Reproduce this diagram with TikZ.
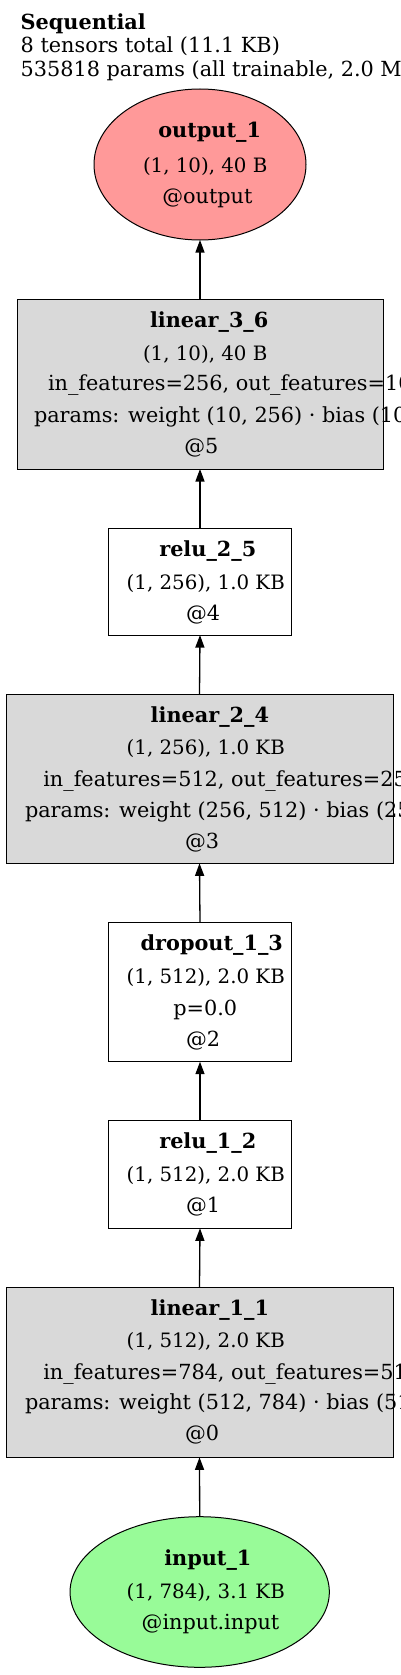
\documentclass[tikz,border=0pt]{standalone}
\usepackage{fontspec}
\setmainfont{DejaVu Serif}
\usetikzlibrary{shapes.geometric,arrows.meta}
\definecolor{outfill}{HTML}{FF9999}
\definecolor{infill}{HTML}{98FB98}
\definecolor{linfill}{HTML}{D9D9D9}
\tikzset{
  box/.style={draw=black, line width=1pt, rectangle, inner sep=0pt, outer sep=0pt},
  oval/.style={draw=black, line width=1pt, ellipse, inner sep=0pt, outer sep=0pt},
  txt/.style={anchor=base west, inner sep=0pt, outer sep=0pt, font=\fontsize{20.8}{25}\selectfont},
  txtn/.style={txt, font=\fontsize{19.8}{24}\selectfont},
  edge/.style={draw=black, line width=1.3pt, -{Triangle[length=12.5pt,width=9pt]}}
}
\begin{document}
\begin{tikzpicture}[x=1pt,y=-1pt]
\useasboundingbox (0,0) rectangle (400,1675);
\clip (0,0) rectangle (400,1675);
\fill[white] (0,0) rectangle (400,1675);
% header
\node[txt] (h1) at (20.7,30) {\textbf{Sequential}};
\node[txt] (h2) at (20.7,53) {8 tensors total (11.1 KB)};
\node[txt] (h3) at (20.7,77) {535818 params (all trainable, 2.0 MB)};
% shapes
\node[oval, fill=outfill, minimum width=212pt, minimum height=151pt] (out) at (200,164.5) {};
\node[box, fill=linfill, minimum width=366pt, minimum height=170pt] (l36) at (200,384) {};
\node[box, fill=white, minimum width=183.4pt, minimum height=106.7pt] (r25) at (200,581.7) {};
\node[box, fill=linfill, minimum width=387pt, minimum height=169pt] (l24) at (199.5,778.8) {};
\node[box, fill=white, minimum width=183.4pt, minimum height=139pt] (d13) at (200,992.2) {};
\node[box, fill=white, minimum width=183.4pt, minimum height=107.6pt] (r12) at (200,1174.5) {};
\node[box, fill=linfill, minimum width=387pt, minimum height=170pt] (l11) at (199.5,1372.3) {};
\node[oval, fill=infill, minimum width=259.3pt, minimum height=150.6pt] (in) at (199.7,1592) {};
% texts
\node[txt] (t1) at (158.3,138) {\textbf{output\_1}};
\node[txtn] (t2) at (143,172) {(1, 10), 40 B};
\node[txt] (t3) at (162.3,203) {@output};
\node[txt] (t4) at (150,327) {\textbf{linear\_3\_6}};
\node[txtn] (t5) at (143,360) {(1, 10), 40 B};
\node[txt] (t6) at (48,390) {in\_features=256, out\_features=10};
\node[txt] (t7) at (34,422) {params: weight (10, 256) · bias (10)};
\node[txt] (t8) at (184.3,453) {@5};
\node[txt] (t9) at (159.3,556.7) {\textbf{relu\_2\_5}};
\node[txtn] (t10) at (126.7,589) {(1, 256), 1.0 KB};
\node[txt] (t11) at (186,620.7) {@4};
\node[txt] (t12) at (150.7,722.3) {\textbf{linear\_2\_4}};
\node[txtn] (t13) at (126.7,754) {(1, 256), 1.0 KB};
\node[txt] (t14) at (43.3,786) {in\_features=512, out\_features=256};
\node[txt] (t15) at (25,817.3) {params: weight (256, 512) · bias (256)};
\node[txt] (t16) at (185,848.3) {@3};
\node[txt] (t17) at (140.7,950) {\textbf{dropout\_1\_3}};
\node[txtn] (t18) at (126.7,983.3) {(1, 512), 2.0 KB};
\node[txt] (t19) at (173.3,1015) {p=0.0};
\node[txt] (t20) at (186,1046) {@2};
\node[txt] (t21) at (159.3,1148.3) {\textbf{relu\_1\_2}};
\node[txtn] (t22) at (126.7,1181.7) {(1, 512), 2.0 KB};
\node[txt] (t23) at (186,1212.7) {@1};
\node[txt] (t24) at (150.7,1315) {\textbf{linear\_1\_1}};
\node[txtn] (t25) at (126.7,1347.7) {(1, 512), 2.0 KB};
\node[txt] (t26) at (43.3,1379.3) {in\_features=784, out\_features=512};
\node[txt] (t27) at (25,1409.3) {params: weight (512, 784) · bias (512)};
\node[txt] (t28) at (185,1440.7) {@0};
\node[txt] (t29) at (164.3,1565) {\textbf{input\_1}};
\node[txtn] (t30) at (126.7,1598.3) {(1, 784), 3.1 KB};
\node[txt] (t31) at (141.7,1629.3) {@input.input};
% edges
\draw[edge] (in.north) -- (l11.south);
\draw[edge] (l11.north) -- (r12.south);
\draw[edge] (r12.north) -- (d13.south);
\draw[edge] (d13.north) -- (l24.south);
\draw[edge] (l24.north) -- (r25.south);
\draw[edge] (r25.north) -- (l36.south);
\draw[edge] (l36.north) -- (out.south);
\end{tikzpicture}
\end{document}
